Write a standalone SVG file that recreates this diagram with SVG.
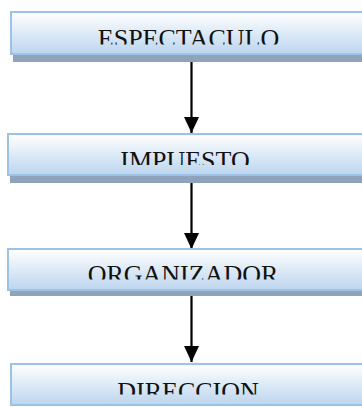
<svg xmlns="http://www.w3.org/2000/svg" width="362" height="407" viewBox="0 0 362 407">
<defs>
<linearGradient id="g" x1="0" y1="0" x2="0" y2="1">
<stop offset="0" stop-color="#ffffff"/>
<stop offset="1" stop-color="#bcd5ee"/>
</linearGradient>
<marker id="ah" markerWidth="16" markerHeight="15" refX="16" refY="7.5" orient="auto" markerUnits="userSpaceOnUse">
<path d="M0,0 L16,7.5 L0,15 Z" fill="#000"/>
</marker>
<clipPath id="c1"><rect x="0" y="0" width="362" height="44.5"/></clipPath>
<clipPath id="c2"><rect x="0" y="130" width="362" height="35"/></clipPath>
<clipPath id="c3"><rect x="0" y="245" width="362" height="34.5"/></clipPath>
<clipPath id="c4"><rect x="0" y="360" width="362" height="34.5"/></clipPath>
</defs>
<style>
.sh{fill:#8fa4bb}
.box{fill:url(#g);stroke:#9cc3e6;stroke-width:2}
.lbl{font-family:"Liberation Serif","Times New Roman",serif;font-size:26px;fill:#111;text-anchor:middle}
.con{stroke:#000;stroke-width:2.2;fill:none;marker-end:url(#ah)}
</style>
<g id="connectors">
<line class="con" x1="191.5" y1="62" x2="191.5" y2="133"/>
<line class="con" x1="191.5" y1="183" x2="191.5" y2="249"/>
<line class="con" x1="191.5" y1="289" x2="191.5" y2="362"/>
</g>
<g id="n1">
<rect class="sh" x="13" y="54" width="400" height="8"/>
<rect class="box" x="11" y="12" width="400" height="42"/>
<text class="lbl" x="188.5" y="47.2" clip-path="url(#c1)">ESPECTACULO</text>
</g>
<g id="n2">
<rect class="sh" x="10" y="175" width="400" height="8"/>
<rect class="box" x="8" y="134" width="400" height="41"/>
<text class="lbl" x="185" y="169" clip-path="url(#c2)">IMPUESTO</text>
</g>
<g id="n3">
<rect class="sh" x="10" y="290" width="400" height="6"/>
<rect class="box" x="8" y="249" width="400" height="41"/>
<text class="lbl" x="183" y="283" clip-path="url(#c3)">ORGANIZADOR</text>
</g>
<g id="n4">
<rect class="box" x="11" y="364" width="400" height="41"/>
<text class="lbl" x="188" y="400" clip-path="url(#c4)">DIRECCION</text>
</g>
</svg>
